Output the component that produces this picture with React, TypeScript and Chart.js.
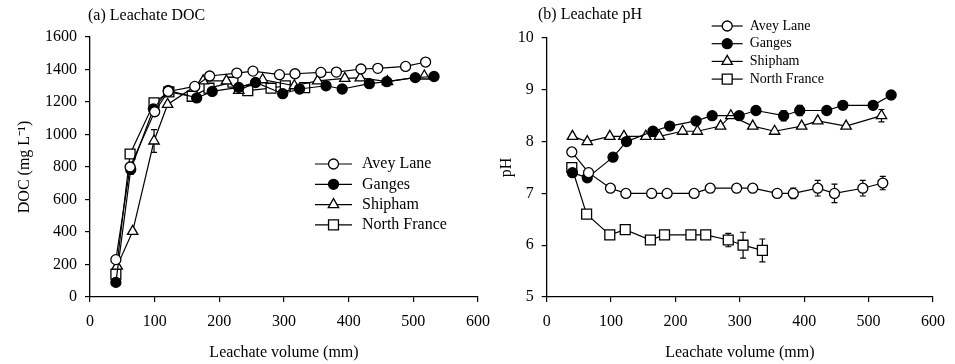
import React, { useEffect, useRef } from 'react';
import { Chart, registerables } from 'chart.js';
import { drawPoint } from 'chart.js/helpers';

Chart.register(...registerables);

const FONT = '"Liberation Serif", "Times New Roman", serif';

const seriesNames = ['Avey Lane', 'Ganges', 'Shipham', 'North France'];
const xTicks = [0, 100, 200, 300, 400, 500, 600];

// ---- (a) Leachate DOC (mg L-1) ----
const aveyDocX = [40, 62, 100, 121, 162, 185, 227, 252, 293, 317, 357, 381, 419, 445, 488, 519];
const aveyDocY = [230, 800, 1140, 1265, 1296, 1360, 1378, 1390, 1368, 1374, 1382, 1384, 1403, 1407, 1419, 1446];
const aveyDocErr = [0, 0, 0, 0, 0, 0, 0, 0, 0, 0, 0, 0, 0, 0, 0, 0];

const gangesDocX = [40, 63, 98, 121, 165, 189, 230, 256, 298, 324, 365, 390, 432, 459, 503, 532];
const gangesDocY = [90, 785, 1157, 1271, 1225, 1265, 1290, 1320, 1251, 1280, 1300, 1280, 1313, 1325, 1350, 1357];
const gangesDocErr = [0, 30, 0, 0, 0, 0, 0, 0, 0, 0, 0, 0, 0, 0, 0, 0];

const shiphamDocX = [42, 66, 99, 120, 175, 211, 230, 267, 316, 352, 394, 418, 460, 517];
const shiphamDocY = [190, 404, 960, 1185, 1330, 1330, 1272, 1337, 1300, 1330, 1345, 1348, 1326, 1360];
const shiphamDocErr = [0, 0, 70, 0, 0, 0, 0, 0, 0, 0, 0, 0, 0, 0];

const franceDocX = [40, 62, 99, 122, 158, 184, 221, 244, 280, 302, 332];
const franceDocY = [140, 880, 1195, 1262, 1235, 1285, 1322, 1270, 1285, 1300, 1288];
const franceDocErr = [0, 0, 0, 0, 0, 0, 0, 0, 0, 0, 0];

// ---- (b) Leachate pH ----
const aveyPhX = [39, 65, 99, 123, 163, 187, 229, 254, 295, 320, 358, 383, 421, 447, 491, 522];
const aveyPhY = [7.8, 7.4, 7.1, 7.0, 7.0, 7.0, 7.0, 7.1, 7.1, 7.1, 7.0, 7.0, 7.1, 7.0, 7.1, 7.2];
const aveyPhErr = [0, 0, 0, 0, 0, 0, 0, 0, 0, 0, 0, 0.1, 0.15, 0.18, 0.15, 0.13];

const gangesPhX = [40, 63, 103, 124, 165, 191, 232, 257, 299, 325, 368, 393, 435, 460, 507, 535];
const gangesPhY = [7.4, 7.3, 7.7, 8.0, 8.2, 8.3, 8.4, 8.5, 8.5, 8.6, 8.5, 8.6, 8.6, 8.7, 8.7, 8.9];
const gangesPhErr = [0, 0, 0, 0, 0, 0, 0, 0, 0, 0, 0.1, 0.1, 0, 0, 0, 0];

const shiphamPhX = [40, 63, 98, 120, 154, 175, 211, 234, 270, 286, 320, 354, 396, 421, 465, 520];
const shiphamPhY = [8.1, 8.0, 8.1, 8.1, 8.1, 8.1, 8.2, 8.2, 8.3, 8.5, 8.3, 8.2, 8.3, 8.4, 8.3, 8.5];
const shiphamPhErr = [0, 0, 0, 0, 0, 0, 0, 0, 0, 0, 0, 0, 0, 0, 0, 0.12];

const francePhX = [39, 62, 98, 122, 161, 183, 224, 247, 282, 305, 335];
const francePhY = [7.5, 6.6, 6.2, 6.3, 6.1, 6.2, 6.2, 6.2, 6.1, 6.0, 5.9];
const francePhErr = [0, 0, 0, 0, 0, 0, 0, 0, 0.13, 0.25, 0.22];

const markerStyles = [
  { pointStyle: 'circle', radius: 5, fill: '#ffffff' },
  { pointStyle: 'circle', radius: 5, fill: '#000000' },
  { pointStyle: 'triangle', radius: 6, fill: '#ffffff' },
  { pointStyle: 'rect', radius: 7, fill: '#ffffff' },
];

function buildDatasets(xs: number[][], ys: number[][], errs: number[][]) {
  return seriesNames.map((name, i) => ({
    label: name,
    data: xs[i].map((x, j) => ({ x, y: ys[i][j] })),
    errors: errs[i],
    borderColor: '#000',
    borderWidth: 1.2,
    pointStyle: markerStyles[i].pointStyle,
    pointRadius: markerStyles[i].radius,
    pointBackgroundColor: markerStyles[i].fill,
    pointBorderColor: '#000',
    pointBorderWidth: 1.3,
    showLine: true,
    tension: 0,
  }));
}

const errorBarPlugin = {
  id: 'errorBars',
  beforeDatasetsDraw(chart: any) {
    const ctx = chart.ctx;
    const xS = chart.scales.x;
    const yS = chart.scales.y;
    ctx.save();
    ctx.strokeStyle = '#000';
    ctx.lineWidth = 1.2;
    chart.data.datasets.forEach((ds: any) => {
      const errs = ds.errors || [];
      ds.data.forEach((p: any, i: number) => {
        const e = errs[i];
        if (!e) return;
        const px = xS.getPixelForValue(p.x);
        const top = yS.getPixelForValue(p.y + e);
        const bot = yS.getPixelForValue(p.y - e);
        ctx.beginPath();
        ctx.moveTo(px, top);
        ctx.lineTo(px, bot);
        ctx.moveTo(px - 3, top);
        ctx.lineTo(px + 3, top);
        ctx.moveTo(px - 3, bot);
        ctx.lineTo(px + 3, bot);
        ctx.stroke();
      });
    });
    ctx.restore();
  },
};

const panelTitlePlugin = {
  id: 'panelTitle',
  afterDraw(chart: any, _args: any, opts: any) {
    const ctx = chart.ctx;
    ctx.save();
    ctx.fillStyle = '#000';
    ctx.font = `16px ${FONT}`;
    ctx.textBaseline = 'middle';
    ctx.textAlign = 'left';
    ctx.fillText(opts.text, opts.x, opts.y);
    ctx.restore();
  },
};

const lineLegendPlugin = {
  id: 'lineLegend',
  afterDatasetsDraw(chart: any, _args: any, opts: any) {
    const ctx = chart.ctx;
    const area = chart.chartArea;
    ctx.save();
    chart.data.datasets.forEach((ds: any, i: number) => {
      const y = area.top + opts.y0 + i * opts.dy;
      const x1 = area.left + opts.x1;
      const x2 = area.left + opts.x2;
      ctx.strokeStyle = '#000';
      ctx.lineWidth = 1.2;
      ctx.beginPath();
      ctx.moveTo(x1, y);
      ctx.lineTo(x2, y);
      ctx.stroke();
      ctx.fillStyle = ds.pointBackgroundColor;
      ctx.strokeStyle = '#000';
      ctx.lineWidth = 1.3;
      drawPoint(ctx, { pointStyle: ds.pointStyle, radius: ds.pointRadius, borderWidth: 1.3, rotation: 0 } as any, (x1 + x2) / 2, y);
      ctx.fillStyle = '#000';
      ctx.font = `${opts.fontSize}px ${FONT}`;
      ctx.textBaseline = 'middle';
      ctx.textAlign = 'left';
      ctx.fillText(ds.label, area.left + opts.textX, y);
    });
    ctx.restore();
  },
};

type PanelProps = {
  left: number;
  width: number;
  datasets: any[];
  yMin: number;
  yMax: number;
  yStep: number;
  yTitle: string;
  yAxisWidth: number;
  yTitlePad: number;
  padTop: number;
  padRight: number;
  title: { text: string; x: number; y: number };
  legend: any;
};

function Panel(p: PanelProps) {
  const ref = useRef<HTMLCanvasElement>(null);
  useEffect(() => {
    if (!ref.current) return;
    const tickFont = { family: FONT, size: 16 };
    const chart = new Chart(ref.current, {
      type: 'scatter',
      data: { datasets: p.datasets },
      plugins: [errorBarPlugin, panelTitlePlugin, lineLegendPlugin],
      options: {
        animation: false,
        responsive: false,
        layout: { padding: { left: 0, top: p.padTop, right: p.padRight, bottom: 0 } },
        plugins: {
          legend: { display: false },
          tooltip: { enabled: false },
          panelTitle: p.title,
          lineLegend: p.legend,
        } as any,
        scales: {
          x: {
            type: 'linear',
            min: 0,
            max: 600,
            afterBuildTicks: (scale: any) => {
              scale.ticks = xTicks.map((v) => ({ value: v }));
            },
            afterFit: (scale: any) => {
              scale.height = 67;
            },
            ticks: {
              color: '#000',
              font: tickFont,
              padding: 10,
              maxRotation: 0,
              autoSkip: false,
              callback: (v: any) => String(v),
            },
            grid: { display: true, drawOnChartArea: false, drawTicks: true, tickLength: 5, color: '#000', lineWidth: 1.2 },
            border: { display: true, color: '#000', width: 1.3 },
            title: {
              display: true,
              text: 'Leachate volume (mm)',
              color: '#000',
              font: { family: FONT, size: 16 },
              padding: { top: 2, bottom: 2 },
            },
          },
          y: {
            type: 'linear',
            min: p.yMin,
            max: p.yMax,
            afterFit: (scale: any) => {
              scale.width = p.yAxisWidth;
            },
            ticks: {
              color: '#000',
              font: tickFont,
              padding: 8,
              stepSize: p.yStep,
              autoSkip: false,
              callback: (v: any) => String(v),
            },
            grid: { display: true, drawOnChartArea: false, drawTicks: true, tickLength: 5, color: '#000', lineWidth: 1.2 },
            border: { display: true, color: '#000', width: 1.3 },
            title: {
              display: true,
              text: p.yTitle,
              color: '#000',
              font: { family: FONT, size: 16 },
              padding: { top: p.yTitlePad, bottom: 2 },
            },
          },
        },
      } as any,
    });
    return () => chart.destroy();
  }, []);
  return (
    <canvas
      ref={ref}
      width={p.width}
      height={364}
      style={{ position: 'absolute', left: p.left, top: 0, width: p.width, height: 364 }}
    />
  );
}

export default function App() {
  const docSets = buildDatasets(
    [aveyDocX, gangesDocX, shiphamDocX, franceDocX],
    [aveyDocY, gangesDocY, shiphamDocY, franceDocY],
    [aveyDocErr, gangesDocErr, shiphamDocErr, franceDocErr]
  );
  const phSets = buildDatasets(
    [aveyPhX, gangesPhX, shiphamPhX, francePhX],
    [aveyPhY, gangesPhY, shiphamPhY, francePhY],
    [aveyPhErr, gangesPhErr, shiphamPhErr, francePhErr]
  );
  return (
    <div style={{ position: 'fixed', left: 0, top: 0, width: 955, height: 364, background: '#fff' }}>
      <Panel
        left={0}
        width={500}
        datasets={docSets}
        yMin={0}
        yMax={1600}
        yStep={200}
        yTitle="DOC (mg L⁻¹)"
        yAxisWidth={90}
        yTitlePad={15}
        padTop={37}
        padRight={21}
        title={{ text: '(a) Leachate DOC', x: 88, y: 16 }}
        legend={{ x1: 225, x2: 262, textX: 272, y0: 127, dy: 20.3, fontSize: 16 }}
      />
      <Panel
        left={480}
        width={475}
        datasets={phSets}
        yMin={5}
        yMax={10}
        yStep={1}
        yTitle="pH"
        yAxisWidth={66.7}
        yTitlePad={17}
        padTop={38}
        padRight={22}
        title={{ text: '(b) Leachate pH', x: 58, y: 15 }}
        legend={{ x1: 165, x2: 196, textX: 203, y0: -12, dy: 17.7, fontSize: 14 }}
      />
    </div>
  );
}
